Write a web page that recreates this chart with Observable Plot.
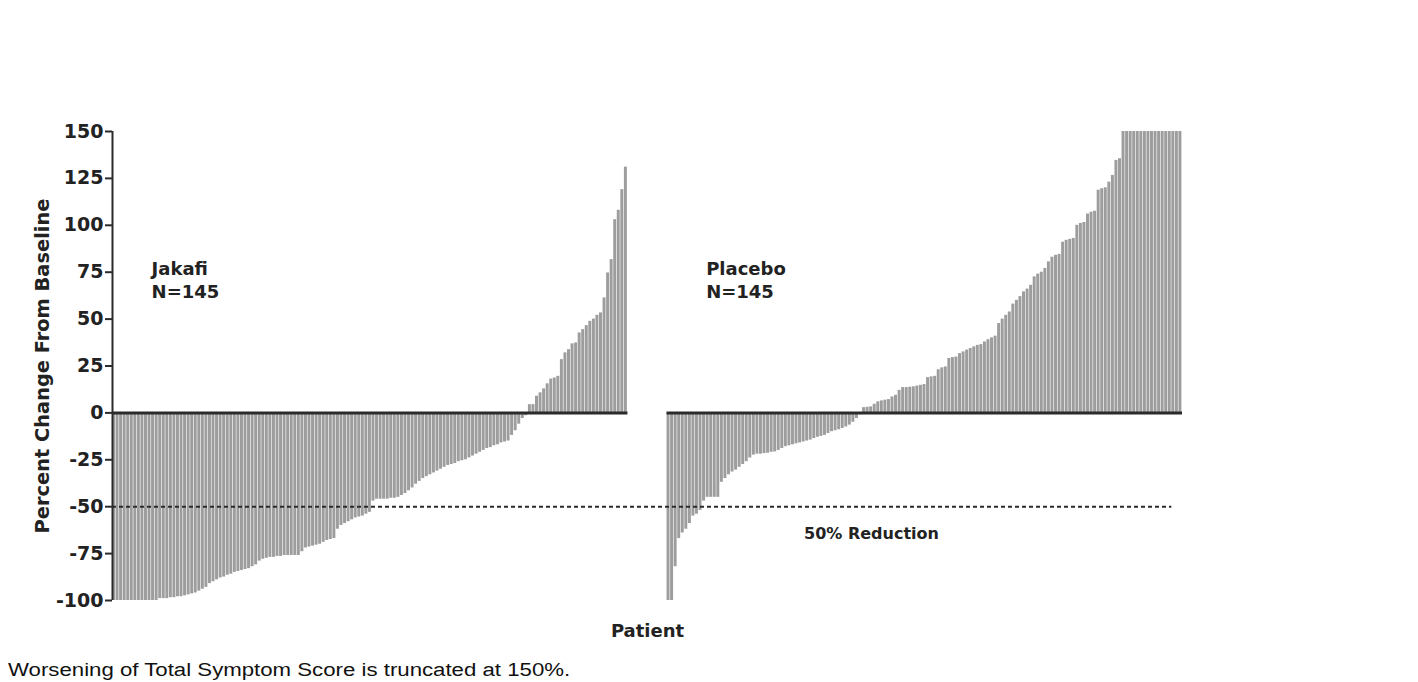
<!DOCTYPE html>
<html>
<head>
<meta charset="utf-8">
<script src="https://cdn.jsdelivr.net/npm/d3@7"></script>
<script src="https://cdn.jsdelivr.net/npm/@observablehq/plot@0.6"></script>
<style>
  html, body { margin: 0; padding: 0; background: #fff; }
  #wrap { position: relative; width: 1418px; height: 682px; overflow: hidden; }
  #chart svg { display: block; }
  #note { position: absolute; left: 8px; top: 659px; font-family: "Liberation Sans", Arial, sans-serif; font-size: 18px; line-height: 22px; color: #111; white-space: nowrap; transform-origin: 0 50%; }
</style>
</head>
<body>
<div id="wrap">
  <div id="chart"></div>
  <div id="note"></div>
</div>
<script>
// ---- Data (sorted per-patient percent change) ----
const groupNames = ["Jakafi", "Placebo"];
const groupN = [145, 145];

const jakafi = [
  -100,-100,-100,-100,-100,-100,-100,-100,-100,-100,-100,-100,-100,
  -99,-99,-99,-98.5,-98.5,-98,-98,-97.5,
  -97,-96.5,-96,-95,-94,-93,-91,-90,-89,-88,-87.5,-86.5,-86,-85,
  -84.5,-84,-83.5,-83,-82,-81,-79,-78,-77.5,-77,-77,
  -76.5,-76.5,-76,-76,-76,-76,-76,
  -74,-72,-71.5,-71,-70.5,-70,-69,-68,-67.5,-67,
  -62,-60,-59,-58,-57,-56,-55.5,-55,-54,-53,-47,
  -46,-46,-46,-46,-45.5,-45.5,-45,-44,-43,-41.5,-40,
  -38,-36.5,-35,-34,-33,-32,-31,-30,-29,-28,-27.5,-27,-26,-25.5,
  -25,-24,-23,-22,-21,-20,-19,-18.5,-17.5,-17,-16,-15.5,-15,
  -12,-9.5,-6,-3,-1.5,
  4.4,4.4,8.9,10.7,12.8,15.5,18,18.6,19.5,28.4,32,33.7,36.8,37.3,
  42.6,44.4,46.5,48.8,50,52,53.3,61.3,74.6,81.7,103,108,119,131
];

const placebo = [
  -100,-100,-82,-67,-64,-62,-59,-55,-54,-52,-47,-45,-45,-45,-45,
  -37,-35,-33,-31.5,-30.5,-29,-27.5,-26,-24,-22.5,-22,-22,-21.7,-21.5,
  -21,-20.8,-20,-19,-18,-17.5,-17,-16.5,-16,-15.5,-15,-14.5,-13.7,
  -13,-12.5,-12,-11,-10,-9.5,-9,-8.3,-7.5,-6.5,-5,-3,-1,
  2.8,3,3.2,4.6,5.9,6.4,6.8,7.1,8.5,9.4,12,13.5,13.5,13.7,13.9,14.3,
  14.7,15.1,18.8,19.2,19.5,23,24,24.5,29,29.5,29.8,31.6,32.5,33.5,34.3,
  35.2,36,36.4,37.8,39,40,40.9,47.6,50,52,53.8,58,60,62,64.5,66,68,
  72.5,74,75,77,80.5,83,84,84.5,91,92,92.5,93,100,101,101.5,106,107,
  107.5,118.7,119.5,120,123,126.6,134.6,135.5,
  150,150,150,150,150,150,150,150,150,150,150,150,150,150,150,150,150
];

const yTicks = [-100, -75, -50, -25, 0, 25, 50, 75, 100, 125, 150];
const yLabel = "Percent Change From Baseline";
const xLabel = "Patient";
const thresholdValue = -50;
const thresholdLabel = "50% Reduction";
const footnote = "Worsening of Total Symptom Score is truncated at 150%.";

// ---- Build table ----
const GAP = 11; // empty slots between the two groups
const series = [jakafi, placebo];
const starts = [0, jakafi.length + GAP];
const bars = series.flatMap((vals, g) => vals.map((v, i) => ({x: starts[g] + i, v})));
const segments = series.map((vals, g) => ({x1: starts[g], x2: starts[g] + vals.length}));
const xMax = starts[1] + placebo.length;
const groupText = groupNames.map((name, g) => ({x: starts[g] + 11, y: 82, label: `${name}\nN=${groupN[g]}`}));

const ink = "#222";
const chart = Plot.plot({
  width: 1418,
  height: 645,
  marginLeft: 112,
  marginRight: 236,
  marginTop: 131,
  marginBottom: 45,
  style: {fontFamily: "'DejaVu Sans', sans-serif", color: ink, background: "#fff"},
  x: {domain: [0, xMax], axis: null},
  y: {domain: [-100, 150], axis: null},
  marks: [
    Plot.rectY(bars, {x1: "x", x2: d => d.x + 1, y1: 0, y2: "v", fill: "#9d9d9d", insetRight: 0.6}),
    Plot.ruleY(segments, {y: 0, x1: "x1", x2: "x2", stroke: "#2b2b2b", strokeWidth: 3}),
    Plot.ruleY([thresholdValue], {x1: 0, x2: xMax - 3, stroke: "#2b2b2b", strokeWidth: 2, strokeDasharray: "4,3"}),
    Plot.ruleX([0], {y1: yTicks[0], y2: yTicks[yTicks.length - 1], stroke: "#2b2b2b", strokeWidth: 2}),
    Plot.axisY({ticks: yTicks, tickSize: 7, tickPadding: 2, tickFormat: d => String(d), fontSize: 19, fontWeight: "bold", strokeWidth: 2, stroke: "#2b2b2b"}),
    Plot.text([yLabel], {frameAnchor: "left", textAnchor: "middle", rotate: -90, dx: -70, fontSize: 19.4, fontWeight: "bold", fill: ink}),
    Plot.text([xLabel], {frameAnchor: "bottom", dy: 36, fontSize: 18, fontWeight: "bold", fill: ink}),
    Plot.text(groupText, {x: "x", y: "y", text: "label", textAnchor: "start", lineAnchor: "top", lineHeight: 1.25, fontSize: 18, fontWeight: "bold", fill: ink}),
    Plot.text([thresholdLabel], {x: 213.5, y: -64.5, fontSize: 16, fontWeight: "bold", fill: ink})
  ]
});
document.getElementById("chart").appendChild(chart);
const note = document.getElementById("note");
note.textContent = footnote;
const w = note.getBoundingClientRect().width;
note.style.transform = `scaleX(${(562 / w).toFixed(3)})`;
</script>
</body>
</html>
